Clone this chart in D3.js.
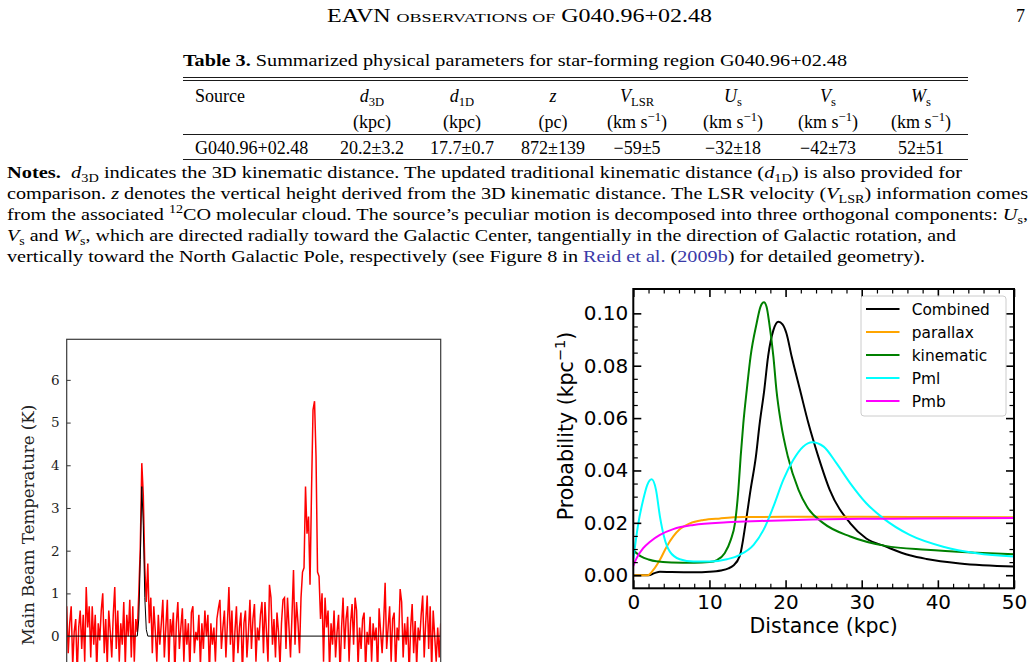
<!DOCTYPE html>
<html>
<head>
<meta charset="utf-8">
<script src="https://cdn.jsdelivr.net/npm/d3@7"></script>
<style>
  body { margin: 0; background: #fff; }
  svg { display: block; }
  text { white-space: pre; }
</style>
</head>
<body>
<script>
const W = 1035, H = 662;

// ---------- table ----------
const tableHead = [
  [["Source"]],
  [["d", "it"], ["3D", "sub"]],
  [["d", "it"], ["1D", "sub"]],
  [["z", "it"]],
  [["V", "it"], ["LSR", "sub"]],
  [["U", "it"], ["s", "sub"]],
  [["V", "it"], ["s", "sub"]],
  [["W", "it"], ["s", "sub"]]
];
const tableUnits = [
  [[""]],
  [["(kpc)"]],
  [["(kpc)"]],
  [["(pc)"]],
  [["(km s"], ["−1", "sup"], [")"]],
  [["(km s"], ["−1", "sup"], [")"]],
  [["(km s"], ["−1", "sup"], [")"]],
  [["(km s"], ["−1", "sup"], [")"]]
];
const tableRow = ["G040.96+02.48", "20.2±3.2", "17.7±0.7", "872±139", "−59±5", "−32±18", "−42±73", "52±51"];

const noteLines = [
  [["Notes.", "b"], ["  "], ["d", "it"], ["3D", "sub"], [" indicates the 3D kinematic distance. The updated traditional kinematic distance ("], ["d", "it"], ["1D", "sub"], [") is also provided for"]],
  [["comparison. "], ["z", "it"], [" denotes the vertical height derived from the 3D kinematic distance. The LSR velocity ("], ["V", "it"], ["LSR", "sub"], [") information comes"]],
  [["from the associated "], ["12", "sup"], ["CO molecular cloud. The source’s peculiar motion is decomposed into three orthogonal components: "], ["U", "it"], ["s", "sub"], [","]],
  [["V", "it"], ["s", "sub"], [" and "], ["W", "it"], ["s", "sub"], [", which are directed radially toward the Galactic Center, tangentially in the direction of Galactic rotation, and"]],
  [["vertically toward the North Galactic Pole, respectively (see Figure 8 in "], ["Reid et al.", "link"], [" ("], ["2009b", "link"], [") for detailed geometry)."]]
];

// ---------- left panel: spectrum ----------
const specTemp = [
  0.7, -0.4, 0.3, 0.7, -0.7, 0.1, 0.4, -0.9, 0.2, 0.6,
  -0.3, 0.5, -0.6, 1.15, 0.2, 0.7, -0.5, 0.7, -0.2, 0.5,
  -0.8, 0.3, -0.1, 0.6, 1.0, -0.4, 0.4, -0.7, 0.6, 0.1,
  -0.5, 0.5, 1.15, -0.3, 0.6, -0.6, 0.3, -0.2, 0.8, -0.7,
  0.5, 0.0, 0.85, -0.5, 0.7, -0.6, 0.4,
  0.1, 1.0, 2.1, 4.05, 3.3, 1.6, 0.8, 1.7, 0.3,
  0.9, -0.4, 0.7, 0.1, -0.6, 0.5, -0.2, 0.3, 0.85, -0.5,
  0.2, 0.85, -0.7, 0.4, 0.0, 0.55, -0.9, 0.3, 0.8, -0.3,
  0.2, 0.65, -0.6, 0.4, -0.2, 0.3, -0.8, 0.55, 0.7, -0.4,
  0.1, -0.1, 0.5, -0.7, 0.3, -0.3, 0.6, 0.0, 0.5, -0.9,
  0.3, -0.2, 0.2, -0.6, 0.4, 0.65, 0.85, -0.3, 0.2, 0.6,
  -0.5, 0.3, 1.15, -0.2, 0.6, -0.7, 0.1, 0.7, -0.4, 0.2,
  0.55, -0.9, 0.3, 0.6, -0.5, 0.1, 0.85, -0.3, 0.4, 0.75,
  -0.6, 0.2, -0.1, 0.5, 0.8, -0.4, 0.8, 0.1, -0.6, 1.2,
  0.9, -0.2, 0.4, -0.5, 0.55, 0.1, -0.7, 0.3, 0.85, 0.9,
  -0.3, 0.9, 0.2, -0.5, 0.5, 1.55, -0.2, 0.8, 0.3, -0.4,
  0.9, 1.5, 1.6, 3.5, 2.4, 2.8, 1.2, 3.4, 5.3, 5.5, 4.2, 1.5, 1.4, 0.4,
  1.0, -0.6, 0.9, 0.2, 0.6, -0.8, 0.3, -0.2, 0.6, -0.5,
  0.1, 0.5, -0.9, 0.2, 0.9, -0.3, 0.4, 0.7, -0.6, 0.3,
  0.75, -0.2, 0.9, 0.6, -0.7, 0.2, -0.3, 0.4, 0.55, -0.8,
  0.1, -0.2, 0.45, -0.6, 0.3, -0.1, 0.2, -0.9, 0.65, 0.1,
  -0.4, 0.3, 1.25, -0.3, 0.2, 0.7, -0.6, 0.4, 0.55, -0.8,
  0.2, -0.1, 1.1, 0.8, -0.5, 0.3, -0.2, 0.45, -0.9, 0.2,
  0.75, -0.4, 0.35, -0.7, 0.2, -0.1, 0.5, 0.95, -0.5, 0.3,
  0.95, -0.3, 0.7, -0.8, 0.6, 0.0, -0.6, 0.2, -0.5, 0.3
];
const fitChan = [0, 47, 48, 49, 50, 51, 52, 53, 54, 249];
const fitTemp = [0, 0, 0.4, 1.8, 3.5, 2.6, 0.9, 0.15, 0, 0];
const tempTicks = [0, 1, 2, 3, 4, 5, 6];

// ---------- right panel: distance PDFs ----------
const distCombined = [0, 2, 2.8, 3.5, 5, 8, 10, 11.5, 12.5, 13.1, 14, 14.75, 15.4, 16.1, 16.6, 17.2, 17.7, 18.4, 19.05, 19.6, 20.1, 20.8, 21.9, 23, 24.3, 25.8, 28.5, 30.6, 33.1, 36.3, 38.5, 42.9, 50];
const probCombined = [0, 0, 0.0008, 0.0013, 0.0012, 0.0011, 0.0013, 0.0018, 0.0026, 0.0036, 0.0075, 0.0198, 0.0326, 0.0453, 0.058, 0.0707, 0.0835, 0.0936, 0.0968, 0.0958, 0.0925, 0.0835, 0.0707, 0.058, 0.0453, 0.0326, 0.0198, 0.014, 0.011, 0.0076, 0.0062, 0.0045, 0.0033];

const distParallax = [0, 1.9, 2.63, 3.5, 4.38, 5.25, 6.13, 7.44, 9.2, 11.4, 14.4, 20, 30, 40, 50];
const probParallax = [0, 0, 0.002, 0.0059, 0.0109, 0.0148, 0.0176, 0.0198, 0.0211, 0.0217, 0.0222, 0.0223, 0.0223, 0.0222, 0.0221];

const distKinematic = [0, 1, 2, 3, 5, 8, 10, 11, 12, 12.8, 13.35, 13.8, 14.1, 14.45, 14.9, 15.4, 16.2, 16.7, 17.16, 17.5, 17.86, 18.4, 18.8, 19.4, 20.3, 21.7, 22.8, 25, 28.5, 33.1, 38.5, 45.1, 50];
const probKinematic = [0.0095, 0.0072, 0.006, 0.0053, 0.0049, 0.0048, 0.005, 0.0058, 0.0084, 0.0135, 0.0198, 0.0326, 0.0453, 0.058, 0.0707, 0.0835, 0.0962, 0.1025, 0.1042, 0.1025, 0.0962, 0.0835, 0.0707, 0.058, 0.0453, 0.0326, 0.0262, 0.0198, 0.0148, 0.0112, 0.0097, 0.0086, 0.008];

const distPml = [0, 0.66, 1.3, 1.84, 2.41, 2.98, 3.5, 4.03, 4.8, 6.1, 7.9, 10.1, 12.3, 14, 15.8, 17.1, 18.4, 19.7, 21, 22.3, 23.5, 25, 26.7, 28.5, 30.6, 32.8, 36.3, 40.7, 45.1, 50];
const probPml = [0.006, 0.0198, 0.0288, 0.0345, 0.0366, 0.0326, 0.0224, 0.0148, 0.009, 0.0061, 0.0052, 0.0052, 0.0061, 0.0078, 0.0116, 0.0173, 0.0262, 0.0364, 0.044, 0.0491, 0.0508, 0.0491, 0.0427, 0.0351, 0.0275, 0.0218, 0.0154, 0.0109, 0.0084, 0.0071];

const distPmb = [0, 0.44, 1.3, 2.2, 3.5, 5.25, 7.9, 12.3, 16.6, 25.4, 34.2, 50];
const probPmb = [0.0035, 0.0065, 0.0103, 0.0128, 0.0154, 0.0176, 0.0192, 0.0202, 0.0207, 0.0214, 0.0216, 0.0218];

const seriesNames = ["Combined", "parallax", "kinematic", "Pml", "Pmb"];
const seriesDist = [distCombined, distParallax, distKinematic, distPml, distPmb];
const seriesProb = [probCombined, probParallax, probKinematic, probPml, probPmb];
const distTicks = [0, 10, 20, 30, 40, 50];
const probTicks = [0, 0.02, 0.04, 0.06, 0.08, 0.10];

// styles
const seriesColors = ["#000000", "#ffa500", "#008000", "#00ffff", "#ff00ff"];
const serif = "'Liberation Serif', 'Times New Roman', serif";
const sans = "'DejaVu Sans', sans-serif";

const svg = d3.select("body").append("svg").attr("width", W).attr("height", H);
svg.append("rect").attr("width", W).attr("height", H).attr("fill", "#fff");

// text with italic / sub / sup / bold runs
function richText(parent, x, y, segs, size, anchor) {
  const t = parent.append("text")
    .attr("x", x).attr("y", y)
    .attr("font-family", serif)
    .attr("font-size", size)
    .attr("fill", "#000")
    .attr("text-anchor", anchor || "start");
  let shift = 0;
  segs.forEach(function (s) {
    const kinds = (s[1] || "").split(" ");
    const sp = t.append("tspan").text(s[0]);
    let target = 0;
    if (kinds.includes("sub")) target = size * 0.22;
    if (kinds.includes("sup")) target = -size * 0.4;
    if (target !== shift) sp.attr("dy", target - shift);
    shift = target;
    if (kinds.includes("sub") || kinds.includes("sup")) sp.attr("font-size", size * 0.7);
    if (kinds.includes("it")) sp.attr("font-style", "italic");
    if (kinds.includes("b")) sp.attr("font-weight", "bold");
    if (kinds.includes("link")) sp.attr("fill", "#3a3aa8");
  });
  return t;
}

// ---------- page header ----------
const head = svg.append("text").attr("x", 327).attr("y", 22)
  .attr("font-family", serif).attr("font-size", 18)
  .attr("textLength", 385).attr("lengthAdjust", "spacingAndGlyphs");
head.append("tspan").text("EAVN ");
head.append("tspan").attr("font-size", 13.5).text("OBSERVATIONS OF");
head.append("tspan").text(" G040.96+02.48");
svg.append("text").attr("x", 1016).attr("y", 22)
  .attr("font-family", serif).attr("font-size", 18).text("7");

// ---------- table ----------
richText(svg, 183, 66, [["Table 3.", "b"], [" Summarized physical parameters for star-forming region G040.96+02.48"]], 16.5)
  .attr("textLength", 664).attr("lengthAdjust", "spacingAndGlyphs");

const colX = [195, 372, 462, 553, 637, 733, 828, 921];
[77.5, 80.5, 134.5, 159.5].forEach(function (yy) {
  svg.append("line").attr("x1", 183).attr("x2", 968).attr("y1", yy).attr("y2", yy)
    .attr("stroke", "#000").attr("stroke-width", 0.9);
});
tableHead.forEach(function (segs, i) {
  richText(svg, colX[i], 102, segs, 18, i === 0 ? "start" : "middle");
});
tableUnits.forEach(function (segs, i) {
  richText(svg, colX[i], 128, segs, 18, i === 0 ? "start" : "middle");
});
tableRow.forEach(function (v, i) {
  richText(svg, colX[i], 154, [[v]], 18, i === 0 ? "start" : "middle");
});

// ---------- notes ----------
const noteWidths = [955, 1021, 1021, 949, 918];
noteLines.forEach(function (segs, i) {
  richText(svg, 7, 178 + i * 21, segs, 17.5)
    .attr("textLength", noteWidths[i]).attr("lengthAdjust", "spacingAndGlyphs");
});

// ---------- left panel ----------
const xL = d3.scaleLinear().domain([0, specTemp.length - 1]).range([66.7, 440.7]);
const yL = d3.scaleLinear().domain([-1, 6.95]).range([678.8, 339.3]);

svg.append("clipPath").attr("id", "clipL").append("rect")
  .attr("x", xL.range()[0]).attr("y", yL.range()[1])
  .attr("width", xL.range()[1] - xL.range()[0]).attr("height", 340);

const gL = svg.append("g");
gL.append("path")
  .datum(specTemp)
  .attr("clip-path", "url(#clipL)")
  .attr("fill", "none").attr("stroke", "#ff0000").attr("stroke-width", 1.5)
  .attr("stroke-linejoin", "miter")
  .attr("d", d3.line().x(function (d, i) { return xL(i); }).y(function (d) { return yL(d); }));

gL.append("path")
  .datum(fitChan.map(function (c, i) { return [c, fitTemp[i]]; }))
  .attr("fill", "none").attr("stroke", "#000").attr("stroke-width", 1)
  .attr("d", d3.line().x(function (d) { return xL(d[0]); }).y(function (d) { return yL(d[1]); }));

const axL = gL.append("g").attr("transform", "translate(" + xL.range()[0] + ",0)")
  .call(d3.axisLeft(yL).tickValues(tempTicks).tickFormat(d3.format("d"))
    .tickSizeInner(-4).tickSizeOuter(0).tickPadding(7));
axL.select(".domain").remove();
axL.selectAll("line").attr("stroke", "#333");
axL.selectAll("text").attr("font-family", "'DejaVu Serif', serif").attr("font-size", 13.5).attr("fill", "#222");

gL.append("rect")
  .attr("x", xL.range()[0]).attr("y", yL.range()[1])
  .attr("width", xL.range()[1] - xL.range()[0]).attr("height", 340)
  .attr("fill", "none").attr("stroke", "#3a3a3a").attr("stroke-width", 1.2);

gL.append("text")
  .attr("transform", "translate(34,525) rotate(-90)")
  .attr("text-anchor", "middle")
  .attr("font-family", "'DejaVu Serif', serif").attr("font-size", 16.6).attr("fill", "#222")
  .text("Main Beam Temperature (K)");

// ---------- right panel ----------
const xR = d3.scaleLinear().domain([0, 50]).range([633.3, 1014]);
const yR = d3.scaleLinear().domain([-0.005, 0.1093]).range([588.3, 289]);
const gR = svg.append("g");

const lineR = d3.line().curve(d3.curveMonotoneX)
  .x(function (d) { return xR(d[0]); }).y(function (d) { return yR(d[1]); });

svg.append("clipPath").attr("id", "clipR").append("rect")
  .attr("x", 633.3).attr("y", 289).attr("width", 1014 - 633.3).attr("height", 588.3 - 289);

seriesNames.forEach(function (name, k) {
  gR.append("path")
    .datum(seriesDist[k].map(function (d, i) { return [d, seriesProb[k][i]]; }))
    .attr("clip-path", "url(#clipR)")
    .attr("fill", "none").attr("stroke", seriesColors[k]).attr("stroke-width", 2)
    .attr("d", lineR);
});

const minorX = d3.range(0, 51, 2).filter(function (v) { return v % 10 !== 0; });
const minorY = d3.range(0, 21).map(function (k) { return k * 0.005; })
  .filter(function (v, k) { return k % 4 !== 0; });

function styleAxis(g, major) {
  g.select(".domain").remove();
  g.selectAll("line").attr("stroke", "#000").attr("stroke-width", major ? 1.6 : 1.2);
  g.selectAll("text").attr("font-family", sans).attr("font-size", 20).attr("fill", "#000");
}

const yBot = yR.range()[0], yTop = yR.range()[1];
const xLeft = xR.range()[0], xRight = xR.range()[1];

styleAxis(gR.append("g").attr("transform", "translate(0," + yBot + ")")
  .call(d3.axisBottom(xR).tickValues(distTicks).tickFormat(d3.format("d")).tickSizeInner(-8).tickSizeOuter(0).tickPadding(7)), true);
styleAxis(gR.append("g").attr("transform", "translate(0," + yBot + ")")
  .call(d3.axisBottom(xR).tickValues(minorX).tickFormat("").tickSizeInner(-4.5).tickSizeOuter(0)), false);
styleAxis(gR.append("g").attr("transform", "translate(0," + yTop + ")")
  .call(d3.axisTop(xR).tickValues(distTicks).tickFormat("").tickSizeInner(-8).tickSizeOuter(0)), true);
styleAxis(gR.append("g").attr("transform", "translate(0," + yTop + ")")
  .call(d3.axisTop(xR).tickValues(minorX).tickFormat("").tickSizeInner(-4.5).tickSizeOuter(0)), false);

styleAxis(gR.append("g").attr("transform", "translate(" + xLeft + ",0)")
  .call(d3.axisLeft(yR).tickValues(probTicks).tickFormat(d3.format(".2f")).tickSizeInner(-8).tickSizeOuter(0).tickPadding(5)), true);
styleAxis(gR.append("g").attr("transform", "translate(" + xLeft + ",0)")
  .call(d3.axisLeft(yR).tickValues(minorY).tickFormat("").tickSizeInner(-4.5).tickSizeOuter(0)), false);
styleAxis(gR.append("g").attr("transform", "translate(" + xRight + ",0)")
  .call(d3.axisRight(yR).tickValues(probTicks).tickFormat("").tickSizeInner(-8).tickSizeOuter(0)), true);
styleAxis(gR.append("g").attr("transform", "translate(" + xRight + ",0)")
  .call(d3.axisRight(yR).tickValues(minorY).tickFormat("").tickSizeInner(-4.5).tickSizeOuter(0)), false);

gR.append("rect")
  .attr("x", xLeft).attr("y", yTop)
  .attr("width", xRight - xLeft).attr("height", yBot - yTop)
  .attr("fill", "none").attr("stroke", "#000").attr("stroke-width", 2);

// axis labels
gR.append("text")
  .attr("x", (xLeft + xRight) / 2).attr("y", 633)
  .attr("text-anchor", "middle")
  .attr("font-family", sans).attr("font-size", 20.5)
  .text("Distance (kpc)");

const ylab = gR.append("text")
  .attr("transform", "translate(573,426) rotate(-90)")
  .attr("text-anchor", "middle")
  .attr("font-family", sans).attr("font-size", 20.5);
ylab.append("tspan").text("Probability (kpc");
ylab.append("tspan").attr("font-size", 14.5).attr("dy", -8).text("−1");
ylab.append("tspan").attr("dy", 8).text(")");

// legend
const leg = gR.append("g");
leg.append("rect")
  .attr("x", 861).attr("y", 296).attr("width", 145).attr("height", 120).attr("rx", 3)
  .attr("fill", "#fff").attr("fill-opacity", 0.8)
  .attr("stroke", "#cccccc").attr("stroke-width", 1);
seriesNames.forEach(function (name, k) {
  const yy = 309 + k * 23;
  leg.append("line").attr("x1", 866).attr("x2", 899.5).attr("y1", yy).attr("y2", yy)
    .attr("stroke", seriesColors[k]).attr("stroke-width", 2);
  leg.append("text").attr("x", 911.7).attr("y", yy).attr("dy", "0.36em")
    .attr("font-family", sans).attr("font-size", 15.4).text(name);
});
</script>
</body>
</html>
